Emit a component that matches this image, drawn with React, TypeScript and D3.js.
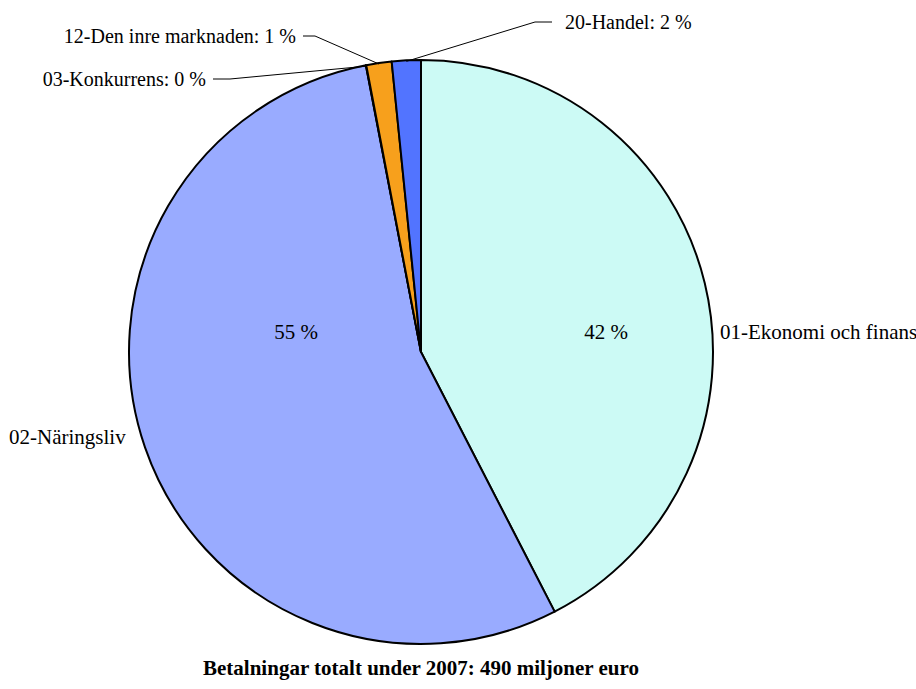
import React from "react";
import * as d3 from "d3";

// Payment shares per policy area (percent of total)
const categories = [
  "01-Ekonomi och finans",
  "02-Näringsliv",
  "03-Konkurrens",
  "12-Den inre marknaden",
  "20-Handel",
];
const shares = [42.4, 54.5, 0.02, 1.4, 1.6];
const sliceColors = ["#ccfaf5", "#99abff", "#99abff", "#f7a01c", "#5274ff"];
const title = "Betalningar totalt under 2007: 490 miljoner euro";

const W = 916;
const H = 689;
const cx = 421;
const cy = 352;
const R = 292;
const FONT = "'Liberation Serif', 'DejaVu Serif', serif";
const FS = 21;
const FS_SMALL = 20;

export default function App() {
  const pie = d3
    .pie<number>()
    .sort(null)
    .value((d) => d);
  const arcs = pie(shares);
  const arcGen = d3.arc<d3.PieArcDatum<number>>().innerRadius(0).outerRadius(R);
  const pct = (v: number) => `${Math.round(v)} %`;

  // point on the rim at a given angle (0 = 12 o'clock, clockwise)
  const rim = (a: number, r = R) => [cx + r * Math.sin(a), cy - r * Math.cos(a)];
  const mid = (a: d3.PieArcDatum<number>) => (a.startAngle + a.endAngle) / 2;

  // outside labels with leader lines for the small slices
  const small = [
    { i: 4, tx: 565, ty: 22, elbow: 535, anchor: "start" },
    { i: 3, tx: 296, ty: 36, elbow: 315, anchor: "end" },
    { i: 2, tx: 206, ty: 79, elbow: 230, anchor: "end" },
  ];

  return (
    <svg width={W} height={H} style={{ position: "absolute", left: 0, top: 0, background: "#fff" }}>
      <g transform={`translate(${cx},${cy})`}>
        {arcs.map((a, i) => (
          <path
            key={categories[i]}
            d={arcGen(a) || ""}
            fill={sliceColors[i]}
            stroke="#000"
            strokeWidth={2}
            strokeLinejoin="round"
          />
        ))}
      </g>

      {/* inside percentage labels for the two large slices */}
      <text x={cx + 185} y={cy - 20} fontFamily={FONT} fontSize={FS} textAnchor="middle" dominantBaseline="central" fill="#000">
        {pct(shares[0])}
      </text>
      <text x={cx - 125} y={cy - 20} fontFamily={FONT} fontSize={FS} textAnchor="middle" dominantBaseline="central" fill="#000">
        {pct(shares[1])}
      </text>

      {/* category labels for the two large slices */}
      <text x={cx + R + 7} y={cy - 20} fontFamily={FONT} fontSize={FS} dominantBaseline="central" fill="#000">
        {categories[0]}
      </text>
      <text x={9} y={437} fontFamily={FONT} fontSize={FS} dominantBaseline="central" fill="#000">
        {categories[1]}
      </text>

      {small.map((s) => {
        const a = arcs[s.i];
        const [px, py] = rim(mid(a), R - 1);
        const lineStart = s.anchor === "start" ? s.tx - 13 : s.tx + 7;
        return (
          <g key={categories[s.i]}>
            <polyline
              points={`${lineStart},${s.ty} ${s.elbow},${s.ty} ${px},${py}`}
              fill="none"
              stroke="#000"
              strokeWidth={1}
            />
            <text
              x={s.tx}
              y={s.ty}
              fontFamily={FONT}
              fontSize={FS_SMALL}
              textAnchor={s.anchor as "start" | "end"}
              dominantBaseline="central"
              fill="#000"
            >
              {`${categories[s.i]}: ${pct(shares[s.i])}`}
            </text>
          </g>
        );
      })}

      <text x={cx} y={668} fontFamily={FONT} fontSize={FS} fontWeight="bold" textAnchor="middle" dominantBaseline="central" fill="#000">
        {title}
      </text>
    </svg>
  );
}
